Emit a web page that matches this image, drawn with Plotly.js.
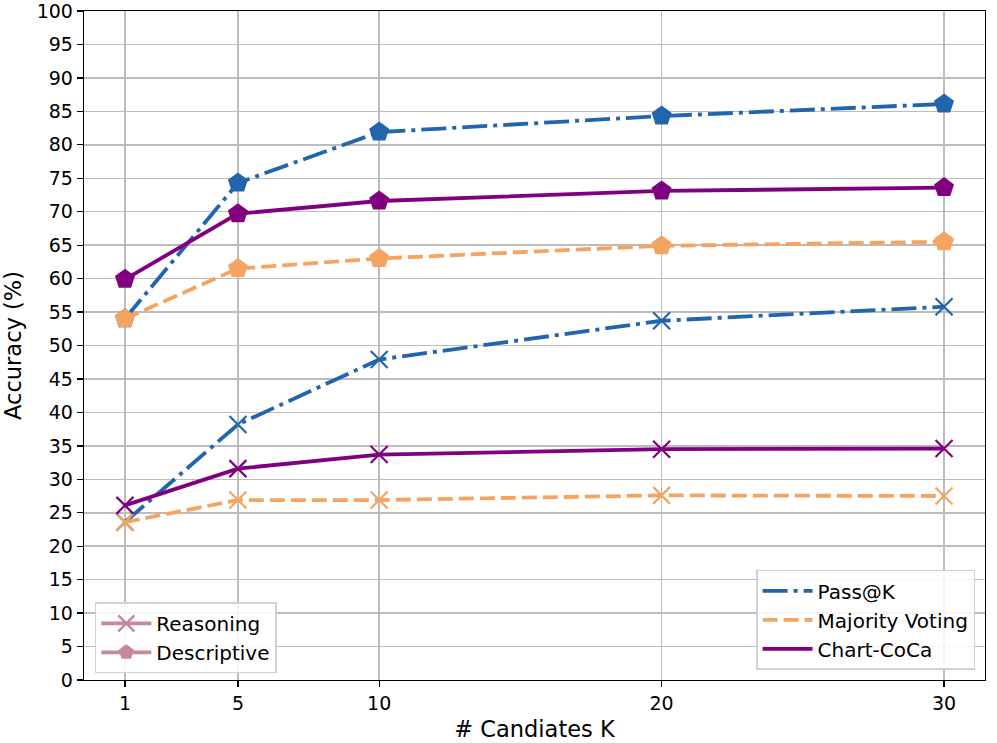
<!DOCTYPE html>
<html>
<head>
<meta charset="utf-8">
<script src="https://cdn.plot.ly/plotly-3.0.1.min.js"></script>
<style>html,body{margin:0;padding:0;background:#fff;}#chart{width:997px;height:743px;}</style>
</head>
<body>
<div id="chart"></div>
<script>
const candidates = [1, 5, 10, 20, 30];
const yTicks = [0,5,10,15,20,25,30,35,40,45,50,55,60,65,70,75,80,85,90,95,100];

const passDescriptive = [54.0, 74.3, 81.9, 84.3, 86.1];
const cocaDescriptive = [59.9, 69.7, 71.6, 73.1, 73.6];
const majorityDescriptive = [54.0, 61.5, 63.0, 64.9, 65.5];

const passReasoning = [23.6, 38.2, 47.9, 53.7, 55.8];
const cocaReasoning = [26.1, 31.6, 33.7, 34.5, 34.6];
const majorityReasoning = [23.6, 26.9, 26.9, 27.6, 27.5];

const methods = ['Pass@K', 'Majority Voting', 'Chart-CoCa'];
const taskNames = ['Reasoning', 'Descriptive'];

const BLUE = '#2166ac', ORANGE = '#f4a460', PURPLE = '#800080', ROSE = '#c48a9a';
const LW = 3.8;
const styles = [
  {color: BLUE, dash: '25px,6px,4px,6px'},
  {color: ORANGE, dash: '15px,6px'},
  {color: PURPLE, dash: 'solid'}
];

const traces = [];
const reasoningSets = [passReasoning, majorityReasoning, cocaReasoning];
const descSets = [passDescriptive, majorityDescriptive, cocaDescriptive];

reasoningSets.forEach((ys, i) => {
  traces.push({x: candidates, y: ys, mode: 'lines+markers', showlegend: false, hoverinfo: 'skip',
    line: {color: styles[i].color, width: LW, dash: styles[i].dash},
    marker: {symbol: 'x-thin-open', size: 17, color: styles[i].color, line: {width: 2.2, color: styles[i].color}}});
});
descSets.forEach((ys, i) => {
  traces.push({x: candidates, y: ys, mode: 'lines+markers', showlegend: false, hoverinfo: 'skip',
    line: {color: styles[i].color, width: LW, dash: styles[i].dash},
    marker: {symbol: 'pentagon', size: 21, color: styles[i].color, line: {width: 0}}});
});

// Method legend (lines only)
methods.forEach((name, i) => {
  traces.push({x: [null], y: [null], mode: 'lines', name: name, legend: 'legend',
    line: {color: styles[i].color, width: LW, dash: styles[i].dash}});
});
// Task legend (markers)
traces.push({x: [null], y: [null], mode: 'lines+markers', name: taskNames[0], legend: 'legend2',
  line: {color: ROSE, width: LW}, marker: {symbol: 'x-thin-open', size: 17, color: ROSE, line: {width: 2.4, color: ROSE}}});
traces.push({x: [null], y: [null], mode: 'lines+markers', name: taskNames[1], legend: 'legend2',
  line: {color: ROSE, width: LW}, marker: {symbol: 'pentagon', size: 21, color: ROSE}});

const tickFont = {family: 'DejaVu Sans', size: 19, color: '#000'};
const titleFont = {family: 'DejaVu Sans', size: 22.5, color: '#000'};
const legFont = {family: 'DejaVu Sans', size: 20, color: '#000'};

const layout = {
  width: 997, height: 743,
  margin: {l: 84, r: 12, t: 11, b: 63},
  paper_bgcolor: '#fff', plot_bgcolor: '#fff',
  font: tickFont,
  xaxis: {
    range: [-0.45, 31.45], tickvals: candidates, ticktext: candidates.map(String),
    showgrid: true, gridcolor: '#bcbcbc', gridwidth: 1.5, zeroline: false,
    showline: true, linecolor: '#000', linewidth: 1.3, mirror: true,
    ticks: 'outside', ticklen: 6, tickwidth: 1.3, tickcolor: '#000',
    tickfont: tickFont, ticklabeloverflow: 'allow',
    title: {text: '# Candiates K', font: titleFont, standoff: 8}
  },
  yaxis: {
    range: [0, 100], tickvals: yTicks, ticktext: yTicks.map(String),
    showgrid: true, gridcolor: '#bcbcbc', gridwidth: 1.5, zeroline: false,
    showline: true, linecolor: '#000', linewidth: 1.3, mirror: true,
    ticks: 'outside', ticklen: 6, tickwidth: 1.3, tickcolor: '#000',
    tickfont: tickFont, ticklabeloverflow: 'allow',
    title: {text: 'Accuracy (%)', font: titleFont, standoff: 10}
  },
  legend: {
    x: 0.989, y: 0.015, xanchor: 'right', yanchor: 'bottom',
    bgcolor: 'rgba(255,255,255,0.85)', bordercolor: '#d0d0d0', borderwidth: 1.5,
    font: legFont, tracegroupgap: 0, itemwidth: 50
  },
  legend2: {
    x: 0.012, y: 0.01, xanchor: 'left', yanchor: 'bottom',
    bgcolor: 'rgba(255,255,255,0.85)', bordercolor: '#d0d0d0', borderwidth: 1.5,
    font: legFont, tracegroupgap: 0, itemwidth: 50
  }
};

Plotly.newPlot('chart', traces, layout, {staticPlot: true, displayModeBar: false});
</script>
</body>
</html>
